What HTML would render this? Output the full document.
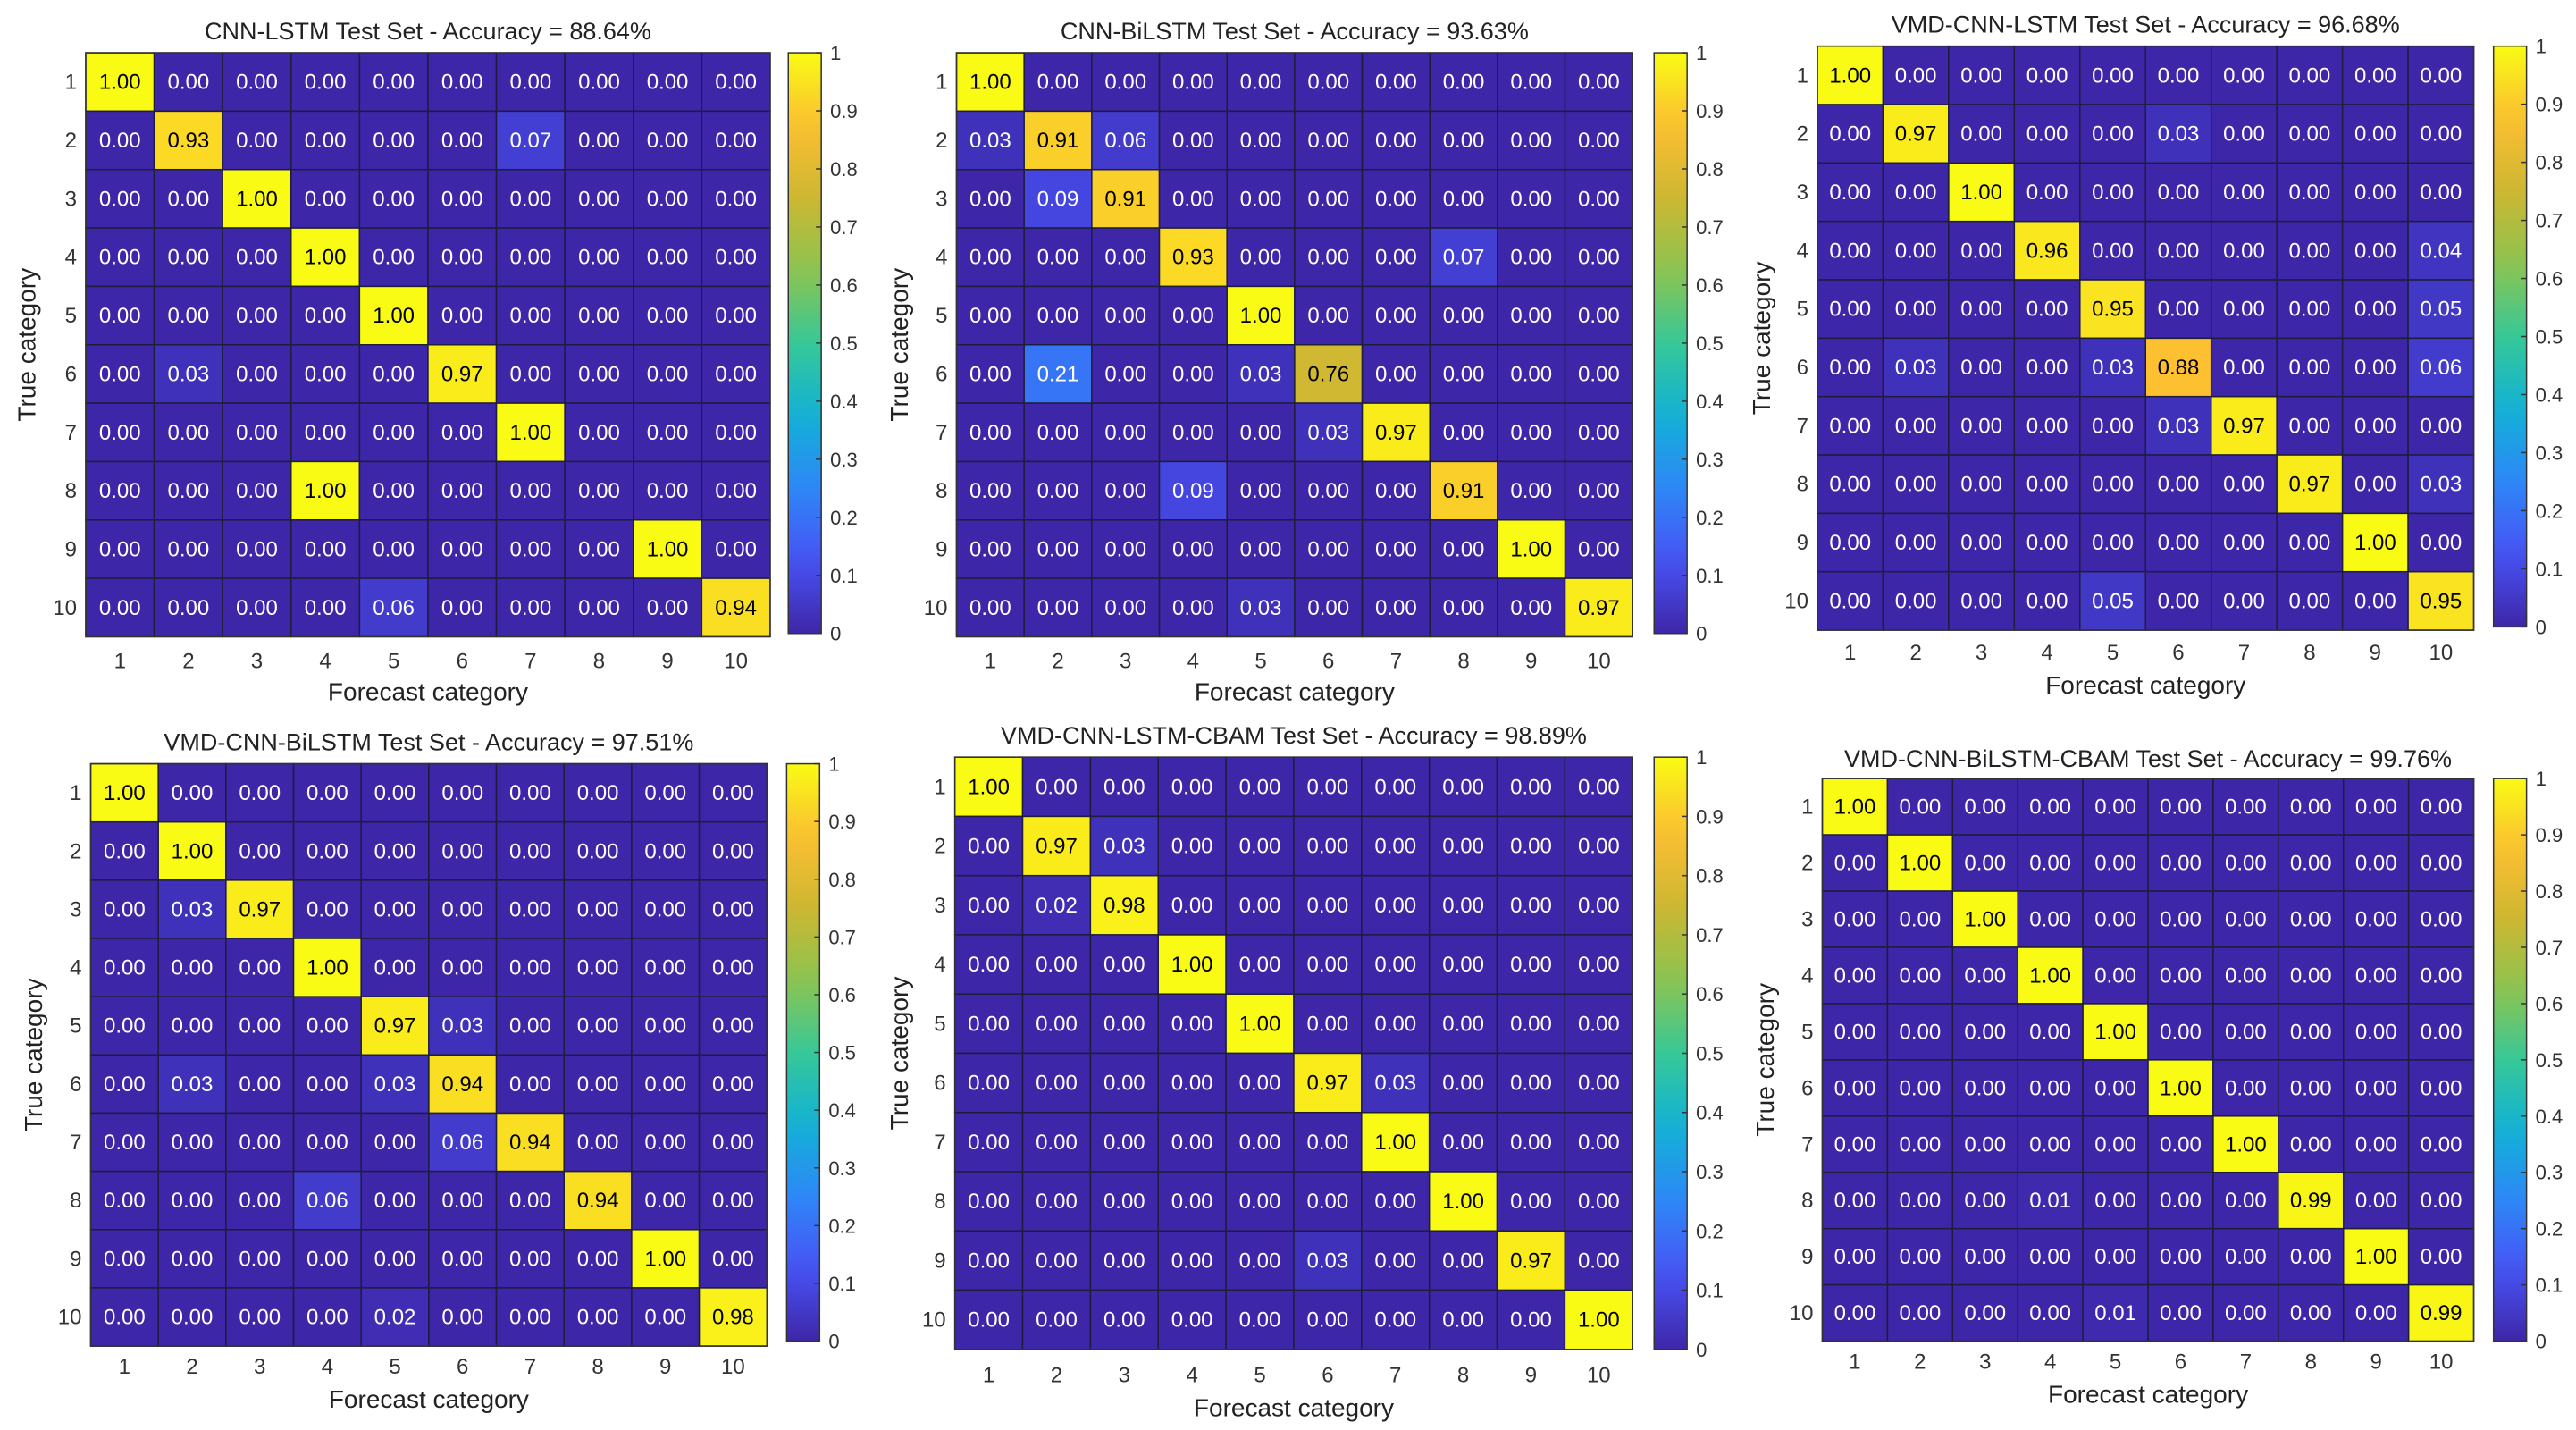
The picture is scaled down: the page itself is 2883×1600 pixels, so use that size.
<!DOCTYPE html>
<html><head><meta charset="utf-8">
<style>
html,body{margin:0;padding:0;background:#fff;}
svg{display:block;font-family:"Liberation Sans",Arial,sans-serif;}
</style></head>
<body>
<svg id="chart" width="2883" height="1600" viewBox="0 0 2883 1600" xmlns="http://www.w3.org/2000/svg"></svg>
<script>
const categories = [1,2,3,4,5,6,7,8,9,10];
const cbTicks = [0,0.1,0.2,0.3,0.4,0.5,0.6,0.7,0.8,0.9,1];
const cbTickLabels = ["0","0.1","0.2","0.3","0.4","0.5","0.6","0.7","0.8","0.9","1"];
const titles = [
 "CNN-LSTM Test Set - Accuracy = 88.64%",
 "CNN-BiLSTM Test Set - Accuracy = 93.63%",
 "VMD-CNN-LSTM Test Set - Accuracy = 96.68%",
 "VMD-CNN-BiLSTM Test Set - Accuracy = 97.51%",
 "VMD-CNN-LSTM-CBAM Test Set - Accuracy = 98.89%",
 "VMD-CNN-BiLSTM-CBAM Test Set - Accuracy = 99.76%"
];
// sparse non-zero entries: [row, col, value]
const m1 = [[1,1,1],[2,2,.93],[2,7,.07],[3,3,1],[4,4,1],[5,5,1],[6,2,.03],[6,6,.97],[7,7,1],[8,4,1],[9,9,1],[10,5,.06],[10,10,.94]];
const m2 = [[1,1,1],[2,1,.03],[2,2,.91],[2,3,.06],[3,2,.09],[3,3,.91],[4,4,.93],[4,8,.07],[5,5,1],[6,2,.21],[6,5,.03],[6,6,.76],[7,6,.03],[7,7,.97],[8,4,.09],[8,8,.91],[9,9,1],[10,5,.03],[10,10,.97]];
const m3 = [[1,1,1],[2,2,.97],[2,6,.03],[3,3,1],[4,4,.96],[4,10,.04],[5,5,.95],[5,10,.05],[6,2,.03],[6,5,.03],[6,6,.88],[6,10,.06],[7,6,.03],[7,7,.97],[8,8,.97],[8,10,.03],[9,9,1],[10,5,.05],[10,10,.95]];
const m4 = [[1,1,1],[2,2,1],[3,2,.03],[3,3,.97],[4,4,1],[5,5,.97],[5,6,.03],[6,2,.03],[6,5,.03],[6,6,.94],[7,6,.06],[7,7,.94],[8,4,.06],[8,8,.94],[9,9,1],[10,5,.02],[10,10,.98]];
const m5 = [[1,1,1],[2,2,.97],[2,3,.03],[3,2,.02],[3,3,.98],[4,4,1],[5,5,1],[6,6,.97],[6,7,.03],[7,7,1],[8,8,1],[9,6,.03],[9,9,.97],[10,10,1]];
const m6 = [[1,1,1],[2,2,1],[3,3,1],[4,4,1],[5,5,1],[6,6,1],[7,7,1],[8,4,.01],[8,8,.99],[9,9,1],[10,5,.01],[10,10,.99]];
const matrices = [m1,m2,m3,m4,m5,m6];

const S = 1.8457;
const layouts = [
 [52,467,32,386, 478,498,32,384, 19,400,419,16],
 [580,990,32,386, 1003,1023,32,384, 19,400,419,545],
 [1102,1500,28,382, 1512,1532,28,380, 15,395,415,1068],
 [55,465,463,816, 477,497,463,813, 450,828,848,20],
 [579,990,459,818, 1003,1023,459,818, 446,833,853,545],
 [1105,1500,472,813, 1512,1532,472,813, 460,825,845,1070]
];
const stops=[[0,[62,38,168]],[0.125,[72,82,244]],[0.25,[46,135,247]],[0.375,[18,177,214]],[0.5,[55,200,151]],[0.625,[140,196,80]],[0.75,[205,183,50]],[0.875,[252,190,50]],[1,[249,251,20]]];
function parula(v){
 v=Math.max(0,Math.min(1,v));
 for(let i=0;i<stops.length-1;i++){const[a,ca]=stops[i],[b,cb]=stops[i+1];
  if(v<=b){const t=(v-a)/(b-a);return `rgb(${ca.map((c,k)=>Math.round(c+(cb[k]-c)*t)).join(',')})`;}}
 return 'rgb(249,251,20)';
}
const NS="http://www.w3.org/2000/svg";
const svg=document.getElementById('chart');
function mk(tag,attrs,parent,text){const e=document.createElementNS(NS,tag);for(const k in attrs)e.setAttribute(k,attrs[k]);if(text!==undefined)e.textContent=text;(parent||svg).appendChild(e);return e;}

const defs=mk('defs',{});
const grad=mk('linearGradient',{id:'parulaGrad',x1:0,y1:1,x2:0,y2:0},defs);
for(let i=0;i<=20;i++){mk('stop',{offset:(i/20),'stop-color':parula(i/20)},grad);}

matrices.forEach((mat,p)=>{
 const L=layouts[p].map(v=>v*S);
 const [x0,x1,y0,y1,cx0,cx1,cy0,cy1,ty,xty,xly,ylx]=L;
 const g=mk('g',{});
 
 
 const n=categories.length;
 const cw=(x1-x0)/n,ch=(y1-y0)/n;
 const xScale=c=>x0+(c-1)*cw;
 const yScale=r=>y0+(r-1)*ch;
 const full=categories.map(()=>categories.map(()=>0));
 mat.forEach(([r,c,v])=>{full[r-1][c-1]=v;});
 const t=mk('text',{x:(x0+x1)/2,y:ty+9,'text-anchor':'middle','font-size':27,fill:'#222'},g,titles[p]);
 
 
 categories.forEach((r,ri)=>{categories.forEach((c,ci)=>{
  const v=full[ri][ci];
  const rect=mk('rect',{x:xScale(c),y:yScale(r),width:cw,height:ch,fill:parula(v),stroke:'#1e1e3a','stroke-width':1.5},g);
  
  
  const tx=mk('text',{x:xScale(c)+cw/2,y:yScale(r)+ch/2+8,'text-anchor':'middle','font-size':24,fill:v>=0.5?'#000':'#fff'},g,v.toFixed(2));
  
  
 });});
 mk('rect',{x:x0,y:y0,width:x1-x0,height:y1-y0,fill:'none',stroke:'#333','stroke-width':1.5},g);
 categories.forEach(c=>{
  const a=mk('text',{x:xScale(c)+cw/2,y:xty+9,'text-anchor':'middle','font-size':24,fill:'#333'},g,String(c));
  
  
  const b=mk('text',{x:x0-10,y:yScale(c)+ch/2+8,'text-anchor':'end','font-size':24,fill:'#333'},g,String(c));
  
  
 });
 const xl=mk('text',{x:(x0+x1)/2,y:xly+10,'text-anchor':'middle','font-size':28,fill:'#222'},g,'Forecast category');
 
 
 const yc=(y0+y1)/2;
 const yl=mk('text',{x:ylx+10,y:yc,'text-anchor':'middle','font-size':28,fill:'#222',transform:`rotate(-90 ${ylx+10} ${yc})`},g,'True category');
 
 
 const cb=mk('rect',{x:cx0,y:cy0,width:cx1-cx0,height:cy1-cy0,fill:'url(#parulaGrad)',stroke:'#333','stroke-width':1.5},g);
 
 
 const cbScale=v=>cy1-v*(cy1-cy0);
 cbTicks.forEach((v,i)=>{
  mk('line',{x1:cx1-6,x2:cx1,y1:cbScale(v),y2:cbScale(v),stroke:'#333','stroke-width':1.5},g);
  const l=mk('text',{x:cx1+10,y:cbScale(v)+8,'font-size':22,fill:'#333'},g,cbTickLabels[i]);
  
  
 });
});
</script>
</body></html>
